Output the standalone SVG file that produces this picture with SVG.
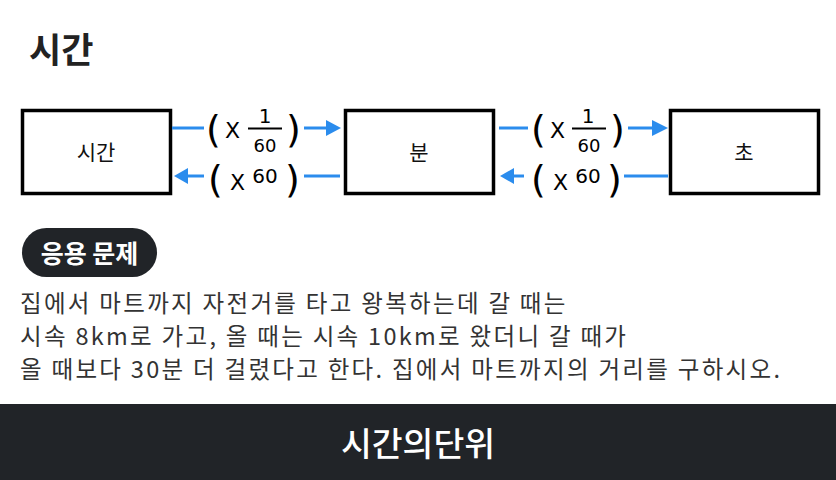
<svg xmlns="http://www.w3.org/2000/svg" width="836" height="480" viewBox="0 0 836 480">
<defs>
<style>
.box{fill:#fff;stroke:#000;stroke-width:3.5}
.conn{stroke:#2b8ced;stroke-width:3;fill:none}
.head{fill:#2b8ced}
.hw{font-family:"Noto Sans CJK KR","DejaVu Sans",sans-serif;fill:#111;text-anchor:middle;font-size:21px}
.lbl{font-family:"DejaVu Sans","Noto Sans CJK KR",sans-serif;fill:#000}
.paren{font-size:38px}
.x{font-size:22px}
.num{font-size:18px;text-anchor:middle}
.body{font-family:"Noto Sans CJK KR","Noto Sans",sans-serif;font-size:23.5px;letter-spacing:2.3px;fill:#333}
</style>
</defs>
<rect width="836" height="480" fill="#fff"/>
<text x="29" y="63" font-family="'Noto Sans CJK KR',sans-serif" font-size="35" font-weight="bold" fill="#222">시간</text>

<g id="node-hour"><rect class="box" x="22.5" y="110.5" width="148" height="83"/><text class="hw" x="96" y="160">시간</text></g>
<g id="node-min"><rect class="box" x="345.5" y="110.5" width="148" height="83"/><text class="hw" x="419" y="160">분</text></g>
<g id="node-sec"><rect class="box" x="670.5" y="110.5" width="148" height="83"/><text class="hw" x="744" y="160">초</text></g>

<g id="connectors">
<line class="conn" x1="172" y1="128" x2="204" y2="128"/>
<line class="conn" x1="304" y1="128" x2="328" y2="128"/>
<polygon class="head" points="326,120 341,128 326,136"/>
<polygon class="head" points="174,176 188,168 188,184"/>
<line class="conn" x1="186" y1="176" x2="204" y2="176"/>
<line class="conn" x1="304" y1="176" x2="340" y2="176"/>

<line class="conn" x1="499" y1="128" x2="528" y2="128"/>
<line class="conn" x1="628" y1="128" x2="653" y2="128"/>
<polygon class="head" points="652,120 668,128 652,136"/>
<polygon class="head" points="500,176 514,168 514,184"/>
<line class="conn" x1="512" y1="176" x2="524" y2="176"/>
<line class="conn" x1="624" y1="176" x2="668" y2="176"/>

<g id="label-top-1" class="lbl">
<text class="paren" x="206" y="142">(</text>
<text class="x" x="225" y="138">X</text>
<text class="num" x="265" y="123" style="font-size:20px">1</text>
<line x1="248" y1="128.5" x2="282" y2="128.5" stroke="#000" stroke-width="2"/>
<text class="num" x="265" y="152">60</text>
<text class="paren" x="286" y="142">)</text>
</g>
<g id="label-bot-1" class="lbl">
<text class="paren" x="208" y="192">(</text>
<text class="x" x="230" y="190">X</text>
<text class="num" x="265" y="183" style="font-size:20px">60</text>
<text class="paren" x="285" y="192">)</text>
</g>
<g id="label-top-2" class="lbl">
<text class="paren" x="531" y="142">(</text>
<text class="x" x="550" y="138">X</text>
<text class="num" x="588" y="123" style="font-size:20px">1</text>
<line x1="572" y1="128.5" x2="606" y2="128.5" stroke="#000" stroke-width="2"/>
<text class="num" x="589" y="152">60</text>
<text class="paren" x="610" y="142">)</text>
</g>
<g id="label-bot-2" class="lbl">
<text class="paren" x="531" y="192">(</text>
<text class="x" x="553" y="190">X</text>
<text class="num" x="588" y="183" style="font-size:20px">60</text>
<text class="paren" x="607" y="192">)</text>
</g>
</g>

<rect x="22" y="228" width="135" height="49" rx="24.5" fill="#212428"/>
<text x="89.5" y="263" text-anchor="middle" font-family="'Noto Sans CJK KR',sans-serif" font-size="25" font-weight="bold" fill="#fff">응용 문제</text>

<text class="body" x="20" y="312">집에서 마트까지 자전거를 타고 왕복하는데 갈 때는</text>
<text class="body" x="20" y="345">시속 8km로 가고, 올 때는 시속 10km로 왔더니 갈 때가</text>
<text class="body" x="20" y="378">올 때보다 30분 더 걸렸다고 한다. 집에서 마트까지의 거리를 구하시오.</text>

<rect x="0" y="404" width="836" height="76" fill="#212428"/>
<text x="418" y="456" text-anchor="middle" font-family="'Noto Sans CJK KR',sans-serif" font-size="33.5" font-weight="500" fill="#fff">시간의단위</text>
</svg>
